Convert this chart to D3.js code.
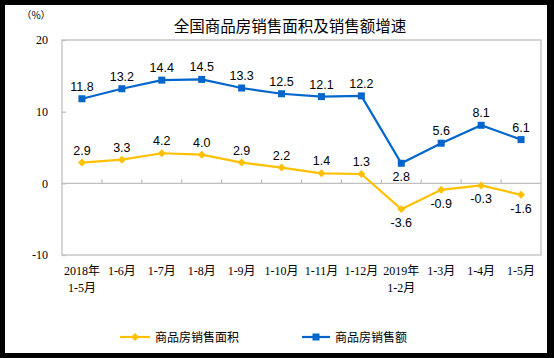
<!DOCTYPE html>
<html><head><meta charset="utf-8">
<script src="https://cdn.jsdelivr.net/npm/d3@7"></script>
<style>body{margin:0;background:#000}svg{display:block}</style>
</head><body>
<script>
const categories = ["2018年|1-5月","1-6月","1-7月","1-8月","1-9月","1-10月","1-11月","1-12月","2019年|1-2月","1-3月","1-4月","1-5月"];
const areaGrowth = [2.9,3.3,4.2,4.0,2.9,2.2,1.4,1.3,-3.6,-0.9,-0.3,-1.6];
const amountGrowth = [11.8,13.2,14.4,14.5,13.3,12.5,12.1,12.2,2.8,5.6,8.1,6.1];
const yTicks = [20,10,0,-10];
const seriesNames = ["商品房销售面积","商品房销售额"];
const title = "全国商品房销售面积及销售额增速";

const loc=d3.formatLocale({decimal:".",thousands:",",grouping:[3],currency:["",""],minus:"-"});
const fInt=loc.format("d"), f1=loc.format(".1f");

const W=554,H=358;
const svg=d3.select("body").append("svg").attr("width",W).attr("height",H);
svg.append("rect").attr("width",W).attr("height",H).attr("fill","#000");
svg.append("rect").attr("x",5).attr("y",5).attr("width",542).attr("height",348).attr("fill","#fff");

const L=62,R=541,T=40,B=255;
const x=d3.scaleBand().domain(d3.range(categories.length)).range([L,R]);
const y=d3.scaleLinear().domain([-10,20]).range([B,T]);
const cx=i=>x(i)+x.bandwidth()/2;
const gray="#BFBFBF";
const blue="#0066CC", yellow="#FFC000";

// plot border
svg.append("rect").attr("x",L).attr("y",T).attr("width",R-L).attr("height",B-T)
  .attr("fill","none").attr("stroke",gray).attr("stroke-width",1.3);

// y axis
const ya=svg.append("g").attr("transform",`translate(${L},0)`)
  .call(d3.axisLeft(y).tickValues(yTicks).tickSize(-4).tickPadding(14).tickFormat(fInt));
ya.select(".domain").remove();
ya.selectAll("line").attr("stroke",gray).attr("stroke-width",1.3);
ya.selectAll("text").attr("font-family","'Liberation Serif',serif").attr("font-size",12).attr("fill","#000");

// zero line + category ticks
svg.append("line").attr("x1",L).attr("x2",R).attr("y1",y(0)).attr("y2",y(0)).attr("stroke",gray).attr("stroke-width",1.3);
svg.append("g").selectAll("line").data(d3.range(1,categories.length)).join("line")
  .attr("x1",i=>x(i)).attr("x2",i=>x(i)).attr("y1",y(0)).attr("y2",y(0)-4)
  .attr("stroke",gray).attr("stroke-width",1.3);

// category labels
const cl=svg.append("g").selectAll("text").data(categories).join("text")
  .attr("x",(d,i)=>cx(i)).attr("y",275).attr("text-anchor","middle")
  .attr("font-family","'Liberation Serif','Noto Sans CJK SC',serif").attr("font-size",12).attr("fill","#000");
cl.each(function(d){
  const parts=d.split("|");
  const t=d3.select(this);
  parts.forEach((p,k)=>t.append("tspan").attr("x",t.attr("x")).attr("dy",k?17:0).text(p));
});

// lines
const line=d3.line().x((d,i)=>cx(i)).y(d=>y(d));
svg.append("path").datum(areaGrowth).attr("d",line).attr("fill","none").attr("stroke",yellow).attr("stroke-width",2.2);
svg.append("path").datum(amountGrowth).attr("d",line).attr("fill","none").attr("stroke",blue).attr("stroke-width",2.2);

// markers
svg.append("g").selectAll("path").data(areaGrowth).join("path")
  .attr("d",d3.symbol(d3.symbolDiamond2,40)).attr("transform",(d,i)=>`translate(${cx(i)},${y(d)})`).attr("fill",yellow);
svg.append("g").selectAll("rect").data(amountGrowth).join("rect")
  .attr("x",(d,i)=>cx(i)-3.5).attr("y",d=>y(d)-3.5).attr("width",7).attr("height",7).attr("fill",blue);

// data labels
function labels(data,belowFn){
  svg.append("g").selectAll("text").data(data).join("text")
    .attr("x",(d,i)=>cx(i)).attr("y",(d,i)=>belowFn(d,i)?y(d)+18:y(d)-8)
    .attr("text-anchor","middle").attr("font-family","'Liberation Sans',Arial,sans-serif").attr("font-size",12.5).attr("fill","#000")
    .text(d=>f1(d));
}
labels(areaGrowth,d=>d<0);
labels(amountGrowth,(d,i)=>i===8);

// title & unit
svg.append("text").attr("x",290).attr("y",32).attr("text-anchor","middle")
  .attr("font-family","'Noto Sans CJK SC',sans-serif").attr("font-size",15.5).attr("fill","#000").text(title);
svg.append("text").attr("x",36).attr("y",19).attr("text-anchor","middle")
  .attr("font-family","'Noto Sans CJK SC',sans-serif").attr("font-size",10).attr("fill","#000").text("（%）");

// legend
const lg=[{c:yellow,x1:120,x2:150,t:155,sym:"d"},{c:blue,x1:302,x2:330,t:335,sym:"s"}];
const ly=337;
lg.forEach((g,k)=>{
  svg.append("line").attr("x1",g.x1).attr("x2",g.x2).attr("y1",ly).attr("y2",ly).attr("stroke",g.c).attr("stroke-width",2.2);
  const m=(g.x1+g.x2)/2;
  if(g.sym==="d") svg.append("path").attr("d",d3.symbol(d3.symbolDiamond2,40)).attr("transform",`translate(${m},${ly})`).attr("fill",g.c);
  else svg.append("rect").attr("x",m-3.5).attr("y",ly-3.5).attr("width",7).attr("height",7).attr("fill",g.c);
  svg.append("text").attr("x",g.t).attr("y",ly+4.5).attr("font-family","'Noto Sans CJK SC',sans-serif").attr("font-size",12).attr("fill","#000").text(seriesNames[k]);
});
</script>
</body></html>
